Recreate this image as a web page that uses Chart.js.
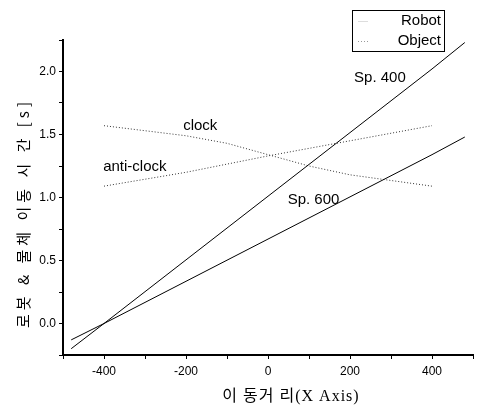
<!DOCTYPE html>
<html>
<head>
<meta charset="utf-8">
<script src="https://cdn.jsdelivr.net/npm/chart.js@4"></script>
<style>
  html, body { margin: 0; padding: 0; background: #fff; }
  #wrap { width: 478px; height: 411px; }
</style>
</head>
<body>
<div id="wrap"><canvas id="chart" width="478" height="411"></canvas></div>
<script>
// values
const robotX = [-480, -400, 0, 400, 480];
const sp400 = [-0.2, 0, 1.01, 2.02, 2.23];
const sp600 = [-0.13, 0, 0.67, 1.34, 1.48];

const clockX = [-400, -200, -100, 0, 100, 200, 400];
const clock = [1.57, 1.49, 1.43, 1.34, 1.25, 1.18, 1.09];

const antiX = [-400, -200, 0, 200, 400];
const antiClock = [1.09, 1.20, 1.33, 1.45, 1.57];

const xTicks = [-400, -200, 0, 200, 400];
const yTicks = [0.0, 0.5, 1.0, 1.5, 2.0];

const sans = '"Liberation Sans", Arial, sans-serif';

function pts(xs, ys) {
  return xs.map((x, i) => ({ x: x, y: ys[i] }));
}

// curve labels, legend box and the two axis titles
const notes = {
  id: 'notes',
  afterDraw(chart) {
    const c = chart.ctx;
    const xs = chart.scales.x, ys = chart.scales.y;
    c.save();
    c.fillStyle = '#000';
    c.font = '15px ' + sans;
    c.textBaseline = 'middle';
    c.textAlign = 'left';
    [['Sp. 400', 210, 1.95], ['clock', -207, 1.57], ['anti-clock', -402, 1.24], ['Sp. 600', 48, 0.98]].forEach(n => {
      c.fillText(n[0], xs.getPixelForValue(n[1]), ys.getPixelForValue(n[2]));
    });

    // legend
    c.strokeStyle = '#000';
    c.lineWidth = 1;
    c.strokeRect(352.5, 10.5, 92, 41);
    c.textAlign = 'right';
    c.fillText('Robot', 441, 21);
    c.fillText('Object', 441, 41);
    c.strokeStyle = '#ddd';
    c.beginPath(); c.moveTo(358, 21.5); c.lineTo(368, 21.5); c.stroke();
    c.setLineDash([1, 2]);
    c.strokeStyle = '#999';
    c.beginPath(); c.moveTo(358, 41.5); c.lineTo(368, 41.5); c.stroke();
    c.setLineDash([]);

    // axis titles
    c.textAlign = 'center';
    c.letterSpacing = '1px';
    c.font = '16px "Liberation Serif", "Noto Sans CJK KR", serif';
    c.fillText('이 동거 리(X Axis)', 291, 397);

    c.translate(23, 213);
    c.rotate(-Math.PI / 2);
    c.letterSpacing = '4px';
    c.font = '15px "Noto Sans CJK KR", sans-serif';
    c.fillText('로봇 & 물체 이동 시 간 [s]', 0, 0);
    c.restore();
  }
};

new Chart(document.getElementById('chart'), {
  type: 'scatter',
  data: {
    datasets: [
      { label: 'Sp. 400', data: pts(robotX, sp400), showLine: true, borderColor: '#000', borderWidth: 1, pointRadius: 0 },
      { label: 'Sp. 600', data: pts(robotX, sp600), showLine: true, borderColor: '#000', borderWidth: 1, pointRadius: 0 },
      { label: 'clock', data: pts(clockX, clock), showLine: true, borderColor: '#333', borderWidth: 1, borderDash: [1, 2], pointRadius: 0 },
      { label: 'anti-clock', data: pts(antiX, antiClock), showLine: true, borderColor: '#333', borderWidth: 1, borderDash: [1, 2], pointRadius: 0 }
    ]
  },
  options: {
    responsive: false,
    animation: false,
    layout: { padding: { top: 40, right: 0, left: 0, bottom: 0 } },
    plugins: { legend: { display: false }, tooltip: { enabled: false } },
    scales: {
      x: {
        type: 'linear', min: -500, max: 500,
        afterFit: s => { s.height = 56; },
        border: { display: true, color: '#000', width: 2 },
        grid: { drawOnChartArea: false, drawTicks: true, tickLength: 4, color: '#000' },
        ticks: {
          stepSize: 100, color: '#000', font: { family: sans, size: 12 }, padding: 5,
          maxRotation: 0, autoSkip: false,
          callback: v => xTicks.includes(v) ? String(v) : ''
        }
      },
      y: {
        type: 'linear', min: -0.25, max: 2.25,
        afterFit: s => { s.width = 63; },
        border: { display: true, color: '#000', width: 2 },
        grid: { drawOnChartArea: false, drawTicks: true, tickLength: 4, color: '#000' },
        ticks: {
          stepSize: 0.25, color: '#000', font: { family: sans, size: 12 }, padding: 3,
          autoSkip: false,
          callback: v => yTicks.some(t => Math.abs(t - v) < 1e-9) ? v.toFixed(1) : ''
        }
      }
    }
  },
  plugins: [notes]
});
</script>
</body>
</html>
